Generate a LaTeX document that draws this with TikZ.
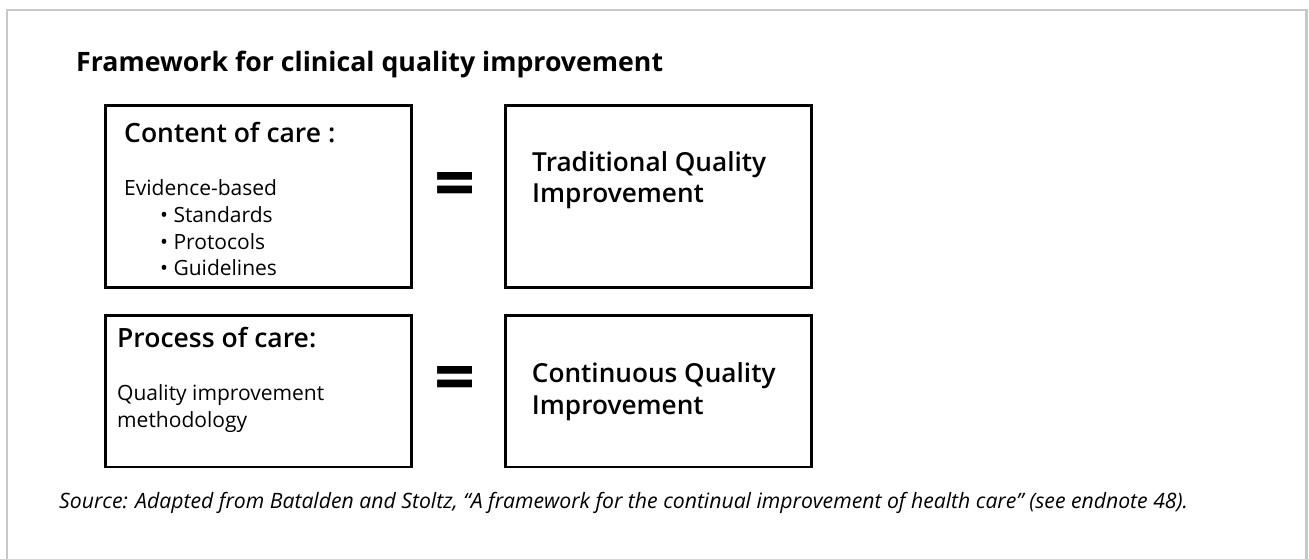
\documentclass[tikz,border=0pt]{standalone}
\usepackage{fontspec}
\setmainfont{Open Sans}
\newfontfamily\semibold{Open Sans Semibold}
\usetikzlibrary{positioning}
\definecolor{framegray}{RGB}{200,200,200}

\begin{document}
\begin{tikzpicture}[
        x=1pt, y=-1pt,
        node distance=93.6pt,
        box/.style={draw=black, line width=2.6pt, minimum width=306.4pt,
                    minimum height=182.4pt, inner sep=0pt, outer sep=0pt},
        smallbox/.style={box, minimum height=151.5pt},
        head/.style={anchor=base west, inner sep=0pt,
                     font=\fontsize{26.5}{30}\selectfont\semibold},
        body/.style={anchor=base west, inner sep=0pt, align=left,
                     font=\fontsize{21}{26.6}\selectfont},
        result/.style={anchor=base west, inner sep=0pt, align=left,
                       font=\fontsize{26.2}{31.5}\selectfont\semibold},
        equals/.style={anchor=base, inner sep=0pt,
                       font=\fontsize{72}{72}\selectfont\bfseries}
    ]
        \useasboundingbox (0,0) rectangle (1309,558);
        \clip (0,0) rectangle (1309,558);
        \draw[framegray, line width=2.2pt] (7,10) rectangle (1306.5,600);

        \node[anchor=base west, inner sep=0pt,
              font=\fontsize{26.7}{30}\selectfont\bfseries] (title) at (76,71)
              {Framework for clinical quality improvement};

        \node[box] (content) at (258.5,196.5) {};
        \node[box, right=of content] (tqi) {};
        \node[smallbox, below=27.6pt of content] (process) {};
        \node[smallbox, right=of process] (cqi) {};

        % multi-line nodes sit on the baseline of their last line
        \node[head] (contenthead) at ([xshift=18.7pt, yshift=-37.4pt]content.north west)
              {Content of care :};
        \node[body] (contentbody) at ([xshift=18.7pt, yshift=-170.4pt]content.north west)
              {Evidence-based\\
               \hspace*{36pt}• Standards\\
               \hspace*{36pt}• Protocols\\
               \hspace*{36pt}• Guidelines};
        \node[result] (tqitext) at ([xshift=26.7pt, yshift=-97.5pt]tqi.north west)
              {Traditional Quality\\Improvement};

        \node[head] (processhead) at ([xshift=11.7pt, yshift=-31.7pt]process.north west)
              {Process of care:};
        \node[body] (processbody) at ([xshift=11.7pt, yshift=-111.7pt]process.north west)
              {Quality improvement\\methodology};
        \node[result] (cqitext) at ([xshift=26.4pt, yshift=-99pt]cqi.north west)
              {Continuous Quality\\Improvement};

        \node[equals] (eq1) at (455,208) {=};
        \node[equals] (eq2) at (455.5,402.5) {=};

        \node[anchor=base west, inner sep=0pt,
              font=\fontsize{21.2}{24}\selectfont\itshape] (source) at (59,508)
              {Source: Adapted from Batalden and Stoltz, “A framework for the continual improvement of health care” (see endnote 48).};
\end{tikzpicture}
\end{document}
